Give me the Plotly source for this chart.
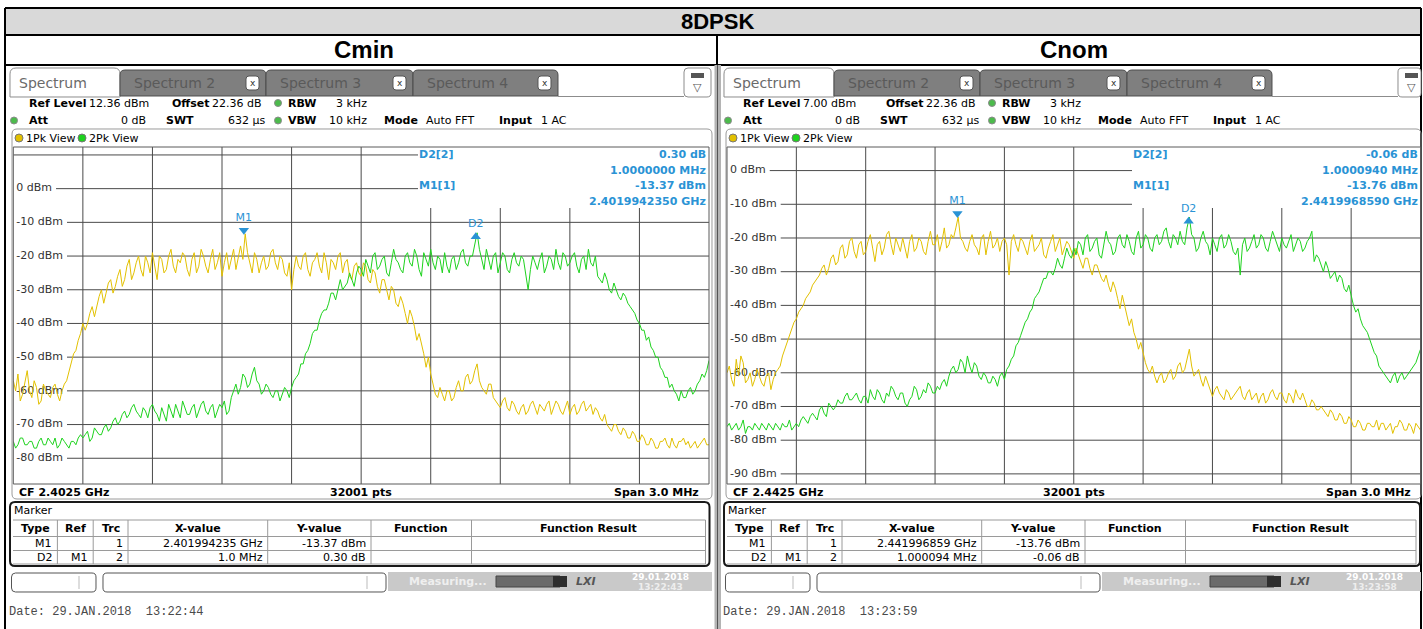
import numpy as np
import plotly.graph_objects as go

# ---------------- values ----------------
chart_title = "8DPSK"
panel_titles = ["Cmin", "Cnom"]
center_ghz = [2.4025, 2.4425]
span_mhz = 3.0
ref_level_dbm = [12.36, 7.00]
range_db = 100
grid_dbm = [[10, 0, -10, -20, -30, -40, -50, -60, -70, -80],
            [0, -10, -20, -30, -40, -50, -60, -70, -80, -90]]
label_dbm = [[0, -10, -20, -30, -40, -50, -60, -70, -80],
             [0, -10, -20, -30, -40, -50, -60, -70, -80, -90]]

# trace 1 (yellow) / trace 2 (green), dBm, evenly spaced over the 3 MHz span
# (one row = one 0.3 MHz grid division)
cmin_trace1 = [-57, -60, -55, -63, -61, -58, -54, -60, -62, -57, -59, -64, -63, -58, -60, -61, -62, -59, -58, -61, -63, -60, -58, -57, -54, -52, -49, -48, -45, -43,
               -40, -42, -40, -37, -35, -38, -35, -32, -30, -34, -31, -28, -27, -31, -29, -26, -24, -29, -27, -23, -21, -27, -25, -22, -20, -24, -26, -20, -22, -25,
               -19, -23, -27, -20, -21, -25, -24, -20, -18, -23, -25, -21, -22, -19, -20, -24, -26, -21, -19, -25, -23, -18, -20, -23, -25, -21, -18, -24, -22, -19,
               -26, -22, -19, -24, -21, -18, -24, -20, -17, -21, -13.4, -19, -22, -25, -19, -21, -25, -22, -20, -24, -23, -19, -18, -22, -24, -20, -21, -25, -26, -22,
               -30, -24, -20, -23, -24, -20, -19, -24, -26, -22, -21, -19, -23, -25, -19, -22, -27, -21, -22, -24, -20, -19, -25, -22, -21, -26, -27, -23, -22, -25,
               -26, -22, -23, -27, -28, -24, -25, -29, -31, -27, -27, -30, -33, -29, -30, -34, -35, -32, -34, -37, -40, -36, -38, -41, -45, -43, -46, -49, -53, -50,
               -55, -58, -61, -62, -59, -61, -63, -60, -60, -63, -62, -59, -57, -60, -60, -56, -55, -58, -57, -54, -52, -57, -59, -60, -61, -58, -58, -62, -63, -64,
               -65, -63, -62, -65, -66, -63, -64, -66, -67, -65, -64, -67, -66, -64, -63, -65, -67, -64, -65, -66, -64, -63, -67, -65, -63, -64, -66, -67, -65, -63,
               -67, -65, -64, -67, -66, -64, -63, -66, -65, -64, -67, -65, -66, -68, -69, -67, -70, -71, -72, -70, -70, -72, -73, -71, -72, -74, -74, -72, -73, -75,
               -75, -73, -74, -76, -76, -74, -75, -77, -77, -75, -75, -74, -76, -77, -74, -76, -77, -75, -75, -74, -76, -75, -77, -76, -75, -77, -76, -75, -74, -76,
               -76]
cmin_trace2 = [-75, -77, -76, -74, -74, -76, -76, -75, -75, -77, -77, -75, -74, -76, -76, -74, -75, -76, -74, -77, -76, -74, -75, -76, -77, -75, -75, -76, -74, -73,
               -74, -73, -72, -75, -74, -71, -72, -73, -73, -71, -70, -72, -71, -69, -68, -70, -69, -67, -66, -68, -67, -65, -64, -66, -67, -68, -65, -66, -68, -65,
               -64, -66, -67, -69, -65, -67, -69, -64, -66, -68, -64, -66, -68, -63, -65, -67, -67, -65, -64, -68, -66, -64, -63, -66, -67, -65, -64, -68, -66, -64,
               -65, -63, -67, -66, -62, -60, -58, -61, -59, -55, -56, -59, -58, -55, -53, -57, -58, -61, -60, -58, -59, -61, -62, -60, -60, -63, -61, -59, -60, -62,
               -59, -57, -56, -55, -52, -52, -49, -48, -46, -43, -42, -42, -39, -37, -36, -36, -34, -31, -31, -33, -30, -27, -30, -29, -28, -25, -27, -29, -25, -23,
               -24, -26, -21, -23, -25, -20, -19, -24, -23, -21, -20, -25, -26, -22, -18, -21, -22, -24, -25, -20, -19, -22, -23, -18, -20, -24, -26, -19, -21, -23,
               -18, -22, -24, -20, -21, -25, -19, -23, -25, -21, -20, -24, -22, -19, -18, -22, -23, -20, -20, -17, -13.1, -18, -21, -24, -18, -21, -24, -20, -19, -25,
               -22, -19, -20, -24, -25, -21, -19, -22, -23, -20, -21, -25, -30, -24, -20, -22, -24, -21, -19, -25, -23, -20, -21, -24, -18, -22, -24, -19, -20, -23,
               -22, -20, -19, -23, -25, -21, -20, -24, -18, -22, -23, -20, -26, -27, -28, -25, -27, -30, -31, -28, -30, -32, -33, -31, -32, -34, -35, -36, -37, -39,
               -40, -42, -42, -45, -44, -47, -48, -50, -50, -53, -54, -56, -56, -59, -58, -60, -61, -63, -60, -62, -62, -60, -59, -61, -60, -58, -57, -55, -56, -54,
               -51]
cnom_trace1 = [-60, -58, -62, -64, -56, -61, -55, -57, -63, -62, -60, -64, -62, -59, -61, -63, -64, -61, -60, -65, -62, -60, -59, -58, -55, -53, -51, -49, -47, -45,
               -44, -42, -41, -40, -38, -37, -36, -34, -33, -32, -31, -29, -28, -31, -29, -26, -25, -28, -27, -23, -22, -26, -25, -21, -20, -24, -26, -22, -21, -25,
               -24, -21, -19, -23, -27, -22, -21, -25, -23, -19, -18, -22, -25, -20, -22, -24, -20, -23, -26, -21, -19, -24, -23, -20, -21, -24, -25, -21, -18, -22,
               -22, -19, -24, -21, -17, -23, -22, -19, -20, -17, -13.8, -20, -21, -23, -24, -21, -19, -22, -23, -25, -20, -19, -25, -21, -18, -23, -22, -20, -24, -21,
               -20, -22, -31, -21, -19, -22, -24, -20, -21, -23, -25, -21, -19, -24, -23, -22, -20, -25, -26, -23, -21, -19, -24, -22, -20, -25, -23, -21, -22, -24,
               -26, -23, -25, -27, -29, -26, -26, -29, -31, -28, -28, -30, -32, -33, -31, -34, -36, -33, -35, -38, -41, -37, -40, -43, -46, -44, -48, -50, -53, -51,
               -54, -57, -59, -60, -58, -61, -63, -61, -60, -63, -62, -60, -59, -62, -61, -58, -57, -60, -59, -56, -53, -58, -61, -60, -59, -62, -64, -61, -63, -65,
               -67, -65, -64, -66, -67, -68, -65, -66, -68, -67, -66, -65, -64, -67, -68, -66, -65, -68, -67, -66, -69, -67, -66, -69, -68, -66, -65, -67, -68, -66,
               -66, -68, -69, -66, -67, -69, -65, -67, -68, -66, -68, -70, -70, -68, -69, -71, -71, -70, -71, -72, -73, -71, -72, -74, -74, -72, -73, -75, -75, -73,
               -74, -76, -76, -74, -75, -77, -77, -75, -75, -76, -76, -74, -77, -75, -75, -77, -76, -75, -78, -76, -76, -74, -75, -77, -77, -75, -76, -78, -75, -76,
               -77]
cnom_trace2 = [-76, -75, -77, -76, -75, -77, -76, -74, -78, -76, -76, -77, -75, -76, -77, -75, -76, -77, -75, -76, -77, -75, -76, -77, -75, -76, -76, -74, -77, -76,
               -75, -76, -74, -73, -74, -75, -73, -72, -73, -74, -71, -70, -72, -73, -69, -70, -71, -70, -68, -69, -69, -67, -66, -68, -68, -67, -66, -68, -69, -67,
               -67, -69, -65, -67, -68, -65, -66, -68, -69, -66, -67, -64, -65, -67, -68, -66, -66, -69, -70, -68, -67, -64, -65, -68, -67, -65, -66, -63, -64, -66,
               -66, -64, -65, -63, -62, -64, -61, -59, -58, -60, -59, -56, -57, -60, -55, -58, -60, -57, -58, -61, -62, -60, -61, -63, -63, -61, -62, -64, -61, -60,
               -62, -59, -58, -56, -55, -52, -51, -49, -47, -45, -44, -42, -41, -38, -37, -36, -34, -32, -32, -30, -30, -31, -29, -26, -28, -29, -26, -23, -25, -26,
               -23, -25, -21, -22, -25, -20, -19, -24, -23, -21, -20, -25, -26, -22, -18, -21, -22, -25, -24, -20, -19, -22, -23, -19, -21, -24, -25, -20, -18, -23,
               -22, -19, -20, -23, -24, -20, -19, -22, -21, -18, -17, -21, -23, -19, -20, -22, -18, -21, -22, -17, -13.8, -19, -20, -24, -23, -20, -18, -21, -22, -25,
               -20, -22, -24, -20, -19, -23, -22, -19, -21, -24, -25, -23, -31, -22, -20, -24, -23, -21, -19, -23, -22, -19, -20, -23, -24, -21, -18, -20, -22, -24,
               -20, -22, -23, -21, -19, -24, -22, -20, -21, -24, -23, -21, -20, -18, -27, -25, -26, -28, -30, -27, -29, -32, -31, -30, -33, -31, -32, -35, -36, -34,
               -37, -40, -42, -41, -44, -46, -47, -48, -50, -52, -54, -55, -58, -59, -60, -61, -62, -63, -61, -60, -63, -61, -60, -62, -61, -60, -59, -58, -57, -55,
               -53]
traces1 = [cmin_trace1, cnom_trace1]
traces2 = [cmin_trace2, cnom_trace2]

m1_freq_ghz = [2.401994235, 2.441996859]
m1_level_dbm = [-13.37, -13.76]
d2_offset_mhz = [1.0, 1.000094]
d2_delta_db = [0.30, -0.06]

ref_text = ["12.36 dBm", "7.00 dBm"]
cf_text = ["CF 2.4025 GHz", "CF 2.4425 GHz"]
info_d2 = ["0.30 dB", "-0.06 dB"]
info_d2_f = ["1.0000000 MHz", "1.0000940 MHz"]
info_m1 = ["-13.37 dBm", "-13.76 dBm"]
info_m1_f = ["2.4019942350 GHz", "2.4419968590 GHz"]
tab_m1_x = ["2.401994235 GHz", "2.441996859 GHz"]
tab_m1_y = ["-13.37 dBm", "-13.76 dBm"]
tab_d2_x = ["1.0 MHz", "1.000094 MHz"]
tab_d2_y = ["0.30 dB", "-0.06 dB"]
status_time = ["13:22:43", "13:23:58"]
date_text = ["Date: 29.JAN.2018&nbsp;&nbsp;13:22:44", "Date: 29.JAN.2018&nbsp;&nbsp;13:23:59"]

# ---------------- page geometry (pixels) ----------------
W, H = 1423, 629
UI = "DejaVu Sans, Verdana, sans-serif"
HEAD = "Liberation Sans, Arial, sans-serif"
MONO = "Liberation Mono, Courier New, monospace"
BLUE = "#2a93d5"
YELLOW = "#e2c000"
GREEN = "#1ed21e"
GRID = "#4a4a4a"

panel_dx = [0, 714]
plot_l = [13.3, 727.0]
plot_r = [709.0, 1420.5]
plot_t, plot_b = 147.0, 484.0
info_left = 418.0     # marker read-out block covers the grid right of this
info_bottom = 208.0

shapes, annotations = [], []


def fx(x):
    return x / W


def fy(y):
    return 1 - y / H


def text(x, y, s, size=11, color="#000", bold=False, anchor="left", family=UI):
    annotations.append(dict(xref="paper", yref="paper", x=fx(x), y=fy(y),
                            text=f"<b>{s}</b>" if bold else s, showarrow=False,
                            xanchor=anchor, yanchor="middle", borderpad=0,
                            font=dict(family=family, size=size, color=color)))


def line(x0, y0, x1, y1, color="#000", width=1):
    shapes.append(dict(type="line", xref="paper", yref="paper", x0=fx(x0), y0=fy(y0),
                       x1=fx(x1), y1=fy(y1), line=dict(color=color, width=width)))


def rect(x0, y0, x1, y1, fill="rgba(0,0,0,0)", color=None, width=1, layer="above"):
    shapes.append(dict(type="rect", xref="paper", yref="paper", x0=fx(x0), y0=fy(y0),
                       x1=fx(x1), y1=fy(y1), fillcolor=fill, layer=layer,
                       line=dict(color=color or "rgba(0,0,0,0)", width=width if color else 0)))


def circle(cx, cy, r, fill, color="#666"):
    shapes.append(dict(type="circle", xref="paper", yref="paper", x0=fx(cx - r), y0=fy(cy - r),
                       x1=fx(cx + r), y1=fy(cy + r), fillcolor=fill, line=dict(color=color, width=1)))


def rrect(x0, y0, x1, y1, r, fill="rgba(0,0,0,0)", color="#888", width=1, top_only=False):
    def P(x, y):
        return f"{fx(x):.6f},{fy(y):.6f}"
    rb = 0 if top_only else r
    path = (f"M{P(x0 + r, y0)} L{P(x1 - r, y0)} Q{P(x1, y0)} {P(x1, y0 + r)} "
            f"L{P(x1, y1 - rb)} Q{P(x1, y1)} {P(x1 - rb, y1)} L{P(x0 + rb, y1)} "
            f"Q{P(x0, y1)} {P(x0, y1 - rb)} L{P(x0, y0 + r)} Q{P(x0, y0)} {P(x0 + r, y0)} Z")
    shapes.append(dict(type="path", xref="paper", yref="paper", path=path, fillcolor=fill,
                       line=dict(color=color, width=width)))


# DejaVu Sans advance widths (em) for the level labels
CHAR_W = {"-": 0.361, " ": 0.318, "d": 0.635, "B": 0.686, "m": 0.974}


def label_width(s, size=11):
    return sum(CHAR_W.get(c, 0.636) for c in s) * size


fig = go.Figure()

# ---------------- header ----------------
rect(5, 8, 1421, 35, fill="#d9d9d9", layer="below")
text(717, 21.5, chart_title, size=22, bold=True, anchor="center", family=HEAD)
for p in range(2):
    text([364, 1074][p], 50, panel_titles[p], size=24, bold=True, anchor="center", family=HEAD)
line(5, 8, 1421, 8, width=2)
line(5, 35, 1421, 35, width=2)
line(5, 65, 1421, 65, width=2)
line(5, 8, 5, 629, width=2)
line(1421, 8, 1421, 629, width=2)
line(717, 35, 717, 65, width=2)
rect(714.5, 65, 721, 629, fill="#b4b4b4")
line(717.5, 65, 717.5, 629, color="#555", width=1)

for p in range(2):
    dx = panel_dx[p]
    L, R = plot_l[p], plot_r[p]
    f0 = center_ghz[p] - span_mhz / 2000
    f1 = center_ghz[p] + span_mhz / 2000
    top_db = ref_level_dbm[p]
    bot_db = ref_level_dbm[p] - range_db
    xa = "x" if p == 0 else "x2"
    ya = "y" if p == 0 else "y2"

    def X(px):
        return f0 + (px - L) / (R - L) * (f1 - f0)

    def Y(py):
        return top_db - (py - plot_t) / (plot_b - plot_t) * range_db

    # ---- tabs ----
    rrect(10 + dx, 68, 120 + dx, 97, 6, fill="white", color="#8c8c8c", top_only=True)
    text(18 + dx, 83, "Spectrum", size=14, color="#6a6a6a")
    for k, (a, b) in enumerate([(120, 266), (266, 413), (413, 558)]):
        rrect(a + dx, 70, b + dx, 96, 5, fill="#7f7f7f", color="#4d4d4d", top_only=True)
        text(a + 13 + dx, 83, f"Spectrum {k + 2}", size=14, color="#5a5a5a")
        rrect(b - 20 + dx, 76, b - 7 + dx, 90, 3, fill="white", color="#555")
        text(b - 13.5 + dx, 83, "x", size=9, color="#333", anchor="center")
    line(558 + dx, 96.5, 684 + dx, 96.5, color="#8c8c8c")
    rrect(684 + dx, 68, min(711 + dx, 1421), 97, 4, fill="white", color="#8c8c8c")
    rect(691 + dx, 73, 704 + dx, 78, fill="#555")
    text(697.5 + dx, 88, "▽", size=11, color="#555", anchor="center")

    # ---- settings ----
    y1, y2 = 103, 120.5
    text(28 + dx, y1, "Ref Level", bold=True)
    text(88 + dx, y1, ref_text[p])
    text(171 + dx, y1, "Offset", bold=True)
    text(211 + dx, y1, "22.36 dB")
    circle(278 + dx, y1, 3.5, "#4cbb4c", "#8a8a8a")
    text(287 + dx, y1, "RBW", bold=True)
    text(335 + dx, y1, "3 kHz")
    circle(14 + dx, y2, 3.5, "#4cbb4c", "#8a8a8a")
    text(27.5 + dx, y2, "Att", bold=True)
    text(147 + dx, y2, "0 dB", anchor="right")
    text(165 + dx, y2, "SWT", bold=True)
    text(266 + dx, y2, "632 µs", anchor="right")
    circle(278 + dx, y2, 3.5, "#4cbb4c", "#8a8a8a")
    text(287 + dx, y2, "VBW", bold=True)
    text(328 + dx, y2, "10 kHz")
    text(383 + dx, y2, "Mode", bold=True)
    text(425 + dx, y2, "Auto FFT")
    text(498 + dx, y2, "Input", bold=True)
    text(539.5 + dx, y2, "1 AC")

    # ---- diagram frame ----
    rrect(12 + dx, 129, min(R + 3, 1421), 499, 5, color="#9a9a9a")
    circle(19 + dx, 138, 4, YELLOW, "#777")
    text(25 + dx, 138, "1Pk View")
    circle(82 + dx, 138, 4, GREEN, "#777")
    text(88 + dx, 138, "2Pk View")
    rect(L, plot_t, R, plot_b, color="#5a5a5a")

    # grid lines (not drawn under the marker read-out block)
    for k in range(1, 10):
        fk = f0 + k * (f1 - f0) / 10
        y_top = Y(info_bottom) if fk > X(info_left + dx) else top_db
        shapes.append(dict(type="line", xref=xa, yref=ya, x0=fk, x1=fk, y0=bot_db, y1=y_top,
                           layer="below", line=dict(color=GRID, width=1)))
    for lv in grid_dbm[p]:
        start = L
        if lv in label_dbm[p]:
            start = L + 5 + label_width(f"{lv} dBm") + 2
        end = X(info_left + dx) if lv > Y(info_bottom) else R
        shapes.append(dict(type="line", xref=xa, yref=ya, x0=X(start), x1=end, y0=lv, y1=lv,
                           layer="below", line=dict(color=GRID, width=1)))

    # level labels as a text trace so the traces are drawn over them
    fig.add_trace(go.Scatter(x=[X(L + 3)] * len(label_dbm[p]), y=label_dbm[p],
                             text=[f"{v} dBm" for v in label_dbm[p]], mode="text",
                             textposition="middle right", hoverinfo="skip",
                             textfont=dict(family=UI, size=11, color="#333"),
                             xaxis=xa, yaxis=ya))

    # measured traces
    for vals, col in [(traces1[p], YELLOW), (traces2[p], GREEN)]:
        freqs = np.linspace(f0, f1, len(vals))
        fig.add_trace(go.Scatter(x=freqs, y=vals, mode="lines", hoverinfo="skip",
                                 line=dict(color=col, width=1), xaxis=xa, yaxis=ya))

    # markers
    db_per_px = range_db / (plot_b - plot_t)
    d2_f = m1_freq_ghz[p] + d2_offset_mhz[p] / 1000
    d2_lv = m1_level_dbm[p] + d2_delta_db[p]
    fig.add_trace(go.Scatter(x=[m1_freq_ghz[p]], y=[m1_level_dbm[p] + 3.5 * db_per_px],
                             mode="markers+text", text=["M1"], textposition="top center",
                             marker=dict(symbol="triangle-down", size=9, color=BLUE),
                             textfont=dict(family=UI, size=11, color=BLUE),
                             hoverinfo="skip", xaxis=xa, yaxis=ya))
    fig.add_trace(go.Scatter(x=[d2_f], y=[d2_lv - 4 * db_per_px],
                             mode="markers+text", text=["D2"], textposition="top center",
                             marker=dict(symbol="triangle-up", size=9, color=BLUE),
                             textfont=dict(family=UI, size=11, color=BLUE),
                             hoverinfo="skip", xaxis=xa, yaxis=ya))

    # marker read-out
    text(info_left + dx, 155, "D2[2]", bold=True, color=BLUE)
    text(info_left + dx, 185.7, "M1[1]", bold=True, color=BLUE)
    for yy, s in [(155, info_d2[p]), (170.5, info_d2_f[p]), (185.7, info_m1[p]), (201, info_m1_f[p])]:
        text(R - 2, yy, s, bold=True, color=BLUE, anchor="right")

    # footer of the diagram
    text(18 + dx, 492, cf_text[p], bold=True)
    text((L + R) / 2, 492, "32001 pts", bold=True, anchor="center")
    text(R - 9, 492, "Span 3.0 MHz", bold=True, anchor="right")

    # ---- marker table ----
    tr = min(R + 0.5, 1420)
    rrect(10 + dx, 502, tr, 566, 5, color="#1a1a1a", width=2)
    text(13 + dx, 510.5, "Marker")
    cols = [13, 57.4, 93.2, 128, 267.7, 371, 471.5]
    tab_r = tr - 4
    for yy in [520, 536.5, 550.5, 564]:
        line(13 + dx, yy, tab_r, yy, color="#9a9a9a")
    for c in cols[1:]:
        line(c + dx, 520, c + dx, 564, color="#9a9a9a")
    line(tab_r, 520, tab_r, 564, color="#9a9a9a")
    heads = ["Type", "Ref", "Trc", "X-value", "Y-value", "Function", "Function Result"]
    edges = [c + dx for c in cols] + [tab_r]
    for i, h in enumerate(heads):
        text((edges[i] + edges[i + 1]) / 2, 528, h, bold=True, anchor="center")
    rows = [["M1", "", "1", tab_m1_x[p], tab_m1_y[p]],
            ["D2", "M1", "2", tab_d2_x[p], tab_d2_y[p]]]
    for r_i, row in enumerate(rows):
        yy = [543.5, 557.3][r_i]
        for c_i, s in enumerate(row):
            if s:
                text(edges[c_i + 1] - 4, yy, s, anchor="right")

    # ---- status bar ----
    rrect(11.5 + dx, 573, 96 + dx, 592, 4, fill="white", color="#555")
    line(79 + dx, 576, 79 + dx, 589, color="#bbb")
    rrect(103 + dx, 573, 386 + dx, 592, 4, fill="white", color="#555")
    line(367 + dx, 576, 367 + dx, 589, color="#bbb")
    rect(388 + dx, 572, min(712 + dx, 1421), 591, fill="#c9c9c9")
    text(408 + dx, 581, "Measuring...", size=11, color="#efefef", bold=True)
    rect(496 + dx, 576, 560 + dx, 587, fill="#6a6a6a", color="#444")
    rect(553 + dx, 576, 567 + dx, 587, fill="#2e2e2e")
    text(586 + dx, 581, "<i>LXI</i>", size=11, color="#555", bold=True, anchor="center")
    text(660 + dx, 577, "29.01.2018", size=9, color="#ffffff", bold=True, anchor="center")
    text(660 + dx, 587, status_time[p], size=9, color="#eeeeee", bold=True, anchor="center")

    # ---- date line ----
    text(8 + dx, 612, date_text[p], size=12, color="#4a4a4a", family=MONO)

    axis_common = dict(visible=False, fixedrange=True)
    dom_x = [fx(L), fx(R)]
    dom_y = [fy(plot_b), fy(plot_t)]
    if p == 0:
        fig.update_layout(xaxis=dict(range=[f0, f1], domain=dom_x, **axis_common),
                          yaxis=dict(range=[bot_db, top_db], domain=dom_y, **axis_common))
    else:
        fig.update_layout(xaxis2=dict(range=[f0, f1], domain=dom_x, anchor="y2", **axis_common),
                          yaxis2=dict(range=[bot_db, top_db], domain=dom_y, anchor="x2", **axis_common))

fig.update_layout(width=W, height=H, margin=dict(l=0, r=0, t=0, b=0),
                  paper_bgcolor="white", plot_bgcolor="rgba(0,0,0,0)",
                  showlegend=False, shapes=shapes, annotations=annotations)

# the page is exactly the figure size, so drop the default body margin
fig.write_html("out.html", config={"displayModeBar": False},
               post_script="document.body.style.margin='0';document.body.style.overflow='hidden';")
